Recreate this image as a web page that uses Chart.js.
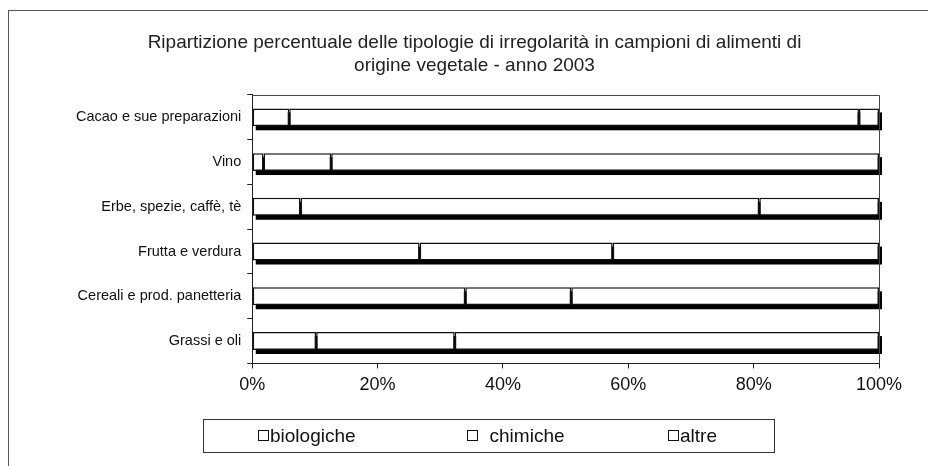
<!DOCTYPE html>
<html>
<head>
<meta charset="utf-8">
<script src="https://cdn.jsdelivr.net/npm/chart.js@4/dist/chart.umd.min.js"></script>
<style>
  html, body { margin: 0; padding: 0; background: #fff; }
  #wrap { position: relative; width: 928px; height: 466px; overflow: hidden; font-family: "Liberation Sans", Arial, sans-serif; }
  #frame { position: absolute; left: 8px; top: 10px; width: 960px; height: 500px; border-left: 1px solid #555; border-top: 1px solid #555; }
  canvas { position: absolute; left: 0; top: 0; }
  #legend { position: absolute; left: 203px; top: 419px; width: 572px; height: 34px; border: 1px solid #333; box-sizing: border-box; }
  .item { position: absolute; top: 5px; font-size: 19px; color: #111; line-height: 22px; }
  .item span { display: inline-block; width: 9px; height: 9px; border: 1.5px solid #111; margin-right: 1px; vertical-align: 1px; }
</style>
</head>
<body>
<div id="wrap">
  <div id="frame"></div>
  <canvas id="chart" width="928" height="466"></canvas>
  <div id="legend"></div>
</div>
<script>
const categories = ['Cacao e sue preparazioni', 'Vino', 'Erbe, spezie, caffè, tè', 'Frutta e verdura', 'Cereali e prod. panetteria', 'Grassi e oli'];
const seriesNames = ['biologiche', 'chimiche', 'altre'];
const biologiche = [5.9, 1.8, 7.7, 26.7, 34.0, 10.2];
const chimiche = [90.9, 10.8, 73.2, 30.8, 16.9, 22.1];
const altre = [3.2, 87.4, 19.1, 42.5, 49.1, 67.7];
const xTicks = [0, 20, 40, 60, 80, 100];

// legend items (html, placed in the bordered box)
const legendLeft = [54, 263, 464];
const legendEl = document.getElementById('legend');
seriesNames.forEach((name, i) => {
  const d = document.createElement('div');
  d.className = 'item';
  d.style.left = legendLeft[i] + 'px';
  d.innerHTML = '<span></span>' + (i === 1 ? '&nbsp; ' : '') + name;
  legendEl.appendChild(d);
});

// black drop shadow behind each full bar + plot area box
const shadowPlugin = {
  id: 'shadow',
  beforeDatasetsDraw(chart) {
    const ctx = chart.ctx;
    const first = chart.getDatasetMeta(0).data;
    const last = chart.getDatasetMeta(chart.data.datasets.length - 1).data;
    ctx.save();
    ctx.fillStyle = '#000';
    first.forEach((bar, i) => {
      const left = Math.min(bar.x, bar.base);
      const right = Math.max(last[i].x, last[i].base);
      const top = bar.y - bar.height / 2;
      ctx.fillRect(left + 3, top + 4, right - left, bar.height);
    });
    ctx.restore();
  },
  afterDraw(chart) {
    const a = chart.chartArea;
    const ctx = chart.ctx;
    ctx.save();
    ctx.strokeStyle = '#444';
    ctx.lineWidth = 1;
    ctx.beginPath();
    ctx.moveTo(a.left, a.top + 0.5);
    ctx.lineTo(a.right + 0.5, a.top + 0.5);
    ctx.lineTo(a.right + 0.5, a.bottom);
    ctx.stroke();
    ctx.restore();
  }
};

const datasets = [biologiche, chimiche, altre].map((vals, i) => ({
  label: seriesNames[i],
  data: vals,
  backgroundColor: '#fff',
  borderColor: '#111',
  borderWidth: 1.5,
  borderSkipped: false,
  barPercentage: 0.4,
  categoryPercentage: 1
}));

new Chart(document.getElementById('chart'), {
  type: 'bar',
  data: { labels: categories, datasets: datasets },
  plugins: [shadowPlugin],
  options: {
    indexAxis: 'y',
    responsive: false,
    animation: false,
    layout: { padding: { left: 70, right: 49, top: 0, bottom: 64 } },
    plugins: {
      legend: { display: false },
      tooltip: { enabled: false },
      title: {
        display: true,
        text: ['Ripartizione percentuale delle tipologie di irregolarità in campioni di alimenti di', 'origine vegetale - anno 2003'],
        color: '#222',
        font: { family: '"Liberation Sans", Arial, sans-serif', size: 19, weight: 'normal', lineHeight: 1.21 },
        padding: { top: 31, bottom: 18 }
      }
    },
    scales: {
      x: {
        stacked: true,
        min: 0,
        max: 100,
        afterBuildTicks: (axis) => { axis.ticks = xTicks.map((v) => ({ value: v })); },
        ticks: {
          callback: (v) => v + '%',
          color: '#111',
          padding: 6,
          font: { family: '"Liberation Sans", Arial, sans-serif', size: 18 }
        },
        grid: { drawOnChartArea: false, drawTicks: true, tickLength: 5, color: '#222' },
        border: { display: true, color: '#222', width: 1 }
      },
      y: {
        stacked: true,
        ticks: {
          color: '#111',
          padding: 6,
          font: { family: '"Liberation Sans", Arial, sans-serif', size: 14.5 }
        },
        grid: { drawOnChartArea: false, drawTicks: true, tickLength: 5, offset: true, color: '#222' },
        border: { display: true, color: '#222', width: 1 }
      }
    }
  }
});
</script>
</body>
</html>
